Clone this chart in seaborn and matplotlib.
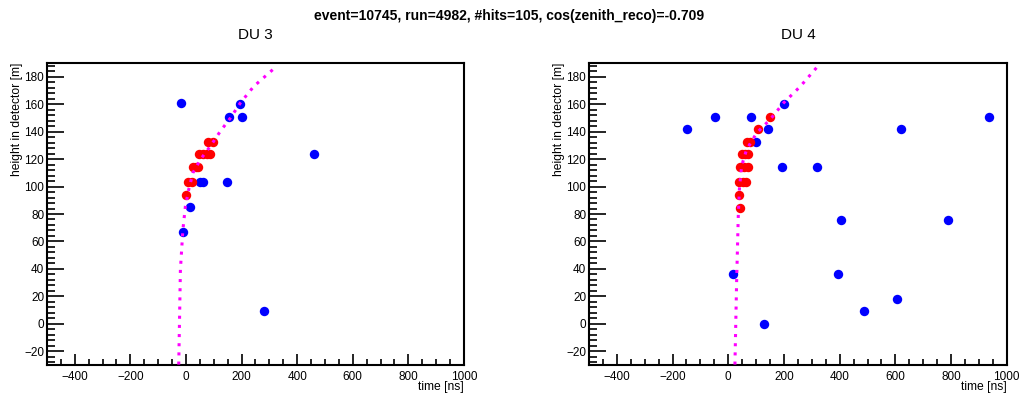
import pandas as pd
import matplotlib
matplotlib.use("Agg")
import matplotlib.pyplot as plt
import seaborn as sns
from matplotlib.ticker import MultipleLocator

# ---- hits per detection unit (time [ns], height [m]) ----
du3_blue_t = [-17, 196, 155, 200, 459, 49, 63, 148, 16, -10, 282]
du3_blue_z = [160.5, 160, 150.6, 150.6, 123.4, 103.2, 103.2, 103.2, 85, 66.8, 9.6]
du3_red_t = [0, 9, 22, 26, 35, 44, 48, 60, 75, 86, 78, 98]
du3_red_z = [93.7, 103.2, 103.2, 114.1, 114.1, 114.1, 123.6, 123.6, 123.6, 123.6, 132.4, 132.4]
du3_fit_t = [-26, -20, -11, -2, 10, 25, 52, 88, 124, 160, 196, 244, 313]
du3_fit_z = [-29.7, 39.5, 68.7, 85.7, 97.9, 110, 119.7, 129.5, 140.4, 150, 161, 173, 185.3]

du4_blue_t = [-148, -46, 80, 200, 142, 98, 937, 620, 193, 317, 405, 788, 16, 395, 606, 489, 128]
du4_blue_z = [142.1, 150.6, 150.6, 159.8, 141.6, 132.4, 150.6, 141.6, 114.1, 114.1, 75.3, 75.5, 36.6, 36.6, 18.2, 9.4, 0]
du4_red_t = [42, 39, 40, 52, 62, 42, 56, 70, 48, 60, 72, 66, 78, 108, 151]
du4_red_z = [84.7, 93.7, 103.2, 103.2, 103.2, 114.1, 114.1, 114.1, 123.6, 123.6, 123.6, 132.4, 132.4, 142.1, 150.6]
du4_fit_t = [24, 30, 36, 40, 48, 66, 102, 151, 199, 259, 317]
du4_fit_z = [-29.7, 30, 78.4, 98, 115, 127, 139, 149, 161, 173, 186.6]

sns.set_style("white")
plt.rcParams['font.family'] = ['Liberation Sans', 'DejaVu Sans']
plt.rcParams['text.color'] = 'black'
plt.rcParams['axes.labelcolor'] = 'black'
plt.rcParams['xtick.labelcolor'] = 'black'
plt.rcParams['ytick.labelcolor'] = 'black'

fig = plt.figure(figsize=(10.19, 3.94), dpi=100)
axes = [fig.add_axes([0.0461, 0.0736, 0.4092, 0.7665]),
        fig.add_axes([0.578, 0.0736, 0.410, 0.7665])]

panels = [
    ("DU 3", du3_blue_t, du3_blue_z, du3_red_t, du3_red_z, du3_fit_t, du3_fit_z),
    ("DU 4", du4_blue_t, du4_blue_z, du4_red_t, du4_red_z, du4_fit_t, du4_fit_z),
]

for ax, (name, bt, bz, rt, rz, ft, fz) in zip(axes, panels):
    blue = pd.DataFrame({'t': bt, 'z': bz})
    red = pd.DataFrame({'t': rt, 'z': rz})
    fit = pd.DataFrame({'t': ft, 'z': fz})
    sns.scatterplot(data=blue, x='t', y='z', ax=ax, color='#0000ff', s=46,
                    linewidth=0, zorder=2)
    sns.scatterplot(data=red, x='t', y='z', ax=ax, color='#ff0000', s=46,
                    linewidth=0, zorder=3)
    sns.lineplot(data=fit, x='t', y='z', ax=ax, sort=False, color='#ff00ff',
                 linewidth=2.2, linestyle=(0, (1, 2.0)), zorder=4)

    ax.set_xlim(-500, 1000)
    ax.set_ylim(-30, 190)
    ax.xaxis.set_major_locator(MultipleLocator(200))
    ax.xaxis.set_minor_locator(MultipleLocator(50))
    ax.yaxis.set_major_locator(MultipleLocator(20))
    ax.yaxis.set_minor_locator(MultipleLocator(4))
    ax.tick_params(which='both', direction='in', color='black', labelsize=8.5,
                   labelcolor='black', bottom=True, left=True, top=False, right=False)
    ax.tick_params(axis='x', which='major', length=8, width=1.2, pad=4)
    ax.tick_params(axis='x', which='minor', length=4, width=1.2)
    ax.tick_params(axis='y', which='major', length=12, width=1.2, pad=2)
    ax.tick_params(axis='y', which='minor', length=6, width=1.2)
    for sp in ax.spines.values():
        sp.set_color('black')
        sp.set_linewidth(1.5)
    ax.set_xlabel('time [ns]', fontsize=8.7, loc='right', color='black')
    ax.xaxis.set_label_coords(1.0, -0.052)
    ax.set_ylabel('height in detector [m]', fontsize=8.7, loc='top', color='black')
    ax.yaxis.set_label_coords(-0.058, 1.0)
    ax.set_title(name, fontsize=11, pad=17, color='black')

fig.text(0.5, 0.959, 'event=10745, run=4982, #hits=105, cos(zenith_reco)=-0.709',
         ha='center', va='center', fontsize=10, fontweight='bold', color='black')

fig.savefig('out.png', dpi=100)
